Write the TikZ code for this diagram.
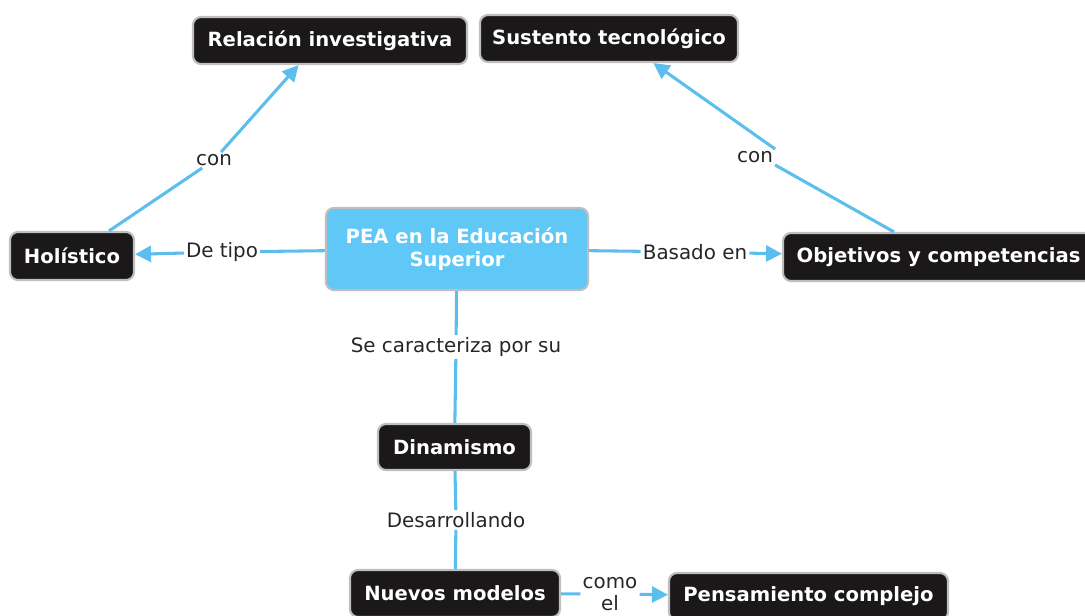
\documentclass[tikz,border=0pt]{standalone}
\usepackage{fontspec}
\setmainfont{DejaVu Sans}
\usetikzlibrary{arrows.meta}
\definecolor{lnk}{RGB}{92,190,236}
\definecolor{peafill}{RGB}{95,200,246}
\definecolor{boxfill}{RGB}{26,24,24}
\definecolor{boxline}{RGB}{190,190,190}
\tikzset{
  concept/.style={draw=boxline, line width=1.6pt, fill=boxfill, rounded corners=6pt,
    text=white, font=\fontsize{14.7}{17.5}\selectfont\bfseries, align=center, inner sep=0pt},
  central/.style={concept, fill=peafill},
  lbl/.style={inner sep=1.5pt, font=\fontsize{14.9}{16.5}\selectfont, text=black!85, align=center},
  link/.style={draw=lnk, line width=2.3pt},
  arr/.style={link, -{Triangle[length=12pt,width=12pt]}}
}
\begin{document}
\begin{tikzpicture}[x=0.75pt,y=-0.75pt]
\useasboundingbox (0,0) rectangle (1085,615);
\clip (0,0) rectangle (1085,615);
\node[concept, minimum width=274*0.75pt, minimum height=47*0.75pt] (rel) at (330,40.5) {Relación investigativa};
\node[concept, minimum width=258*0.75pt, minimum height=47*0.75pt] (sus) at (609,38.5) {Sustento tecnológico};
\node[central, minimum width=262*0.75pt, minimum height=82*0.75pt] (pea) at (457,249) {PEA en la Educación\\Superior};
\node[concept, minimum width=124*0.75pt, minimum height=48*0.75pt] (hol) at (72,256) {Holístico};
\node[concept, minimum width=311*0.75pt, minimum height=48*0.75pt] (obj) at (938.5,257) {Objetivos y competencias};
\node[concept, minimum width=153*0.75pt, minimum height=46*0.75pt] (din) at (454.5,447) {Dinamismo};
\node[concept, minimum width=210*0.75pt, minimum height=47*0.75pt] (nue) at (455,593.5) {Nuevos modelos};
\node[concept, minimum width=279*0.75pt, minimum height=47*0.75pt] (pen) at (808.5,596.5) {Pensamiento complejo};

\node[lbl] (con1) at (214,160) {con};
\node[lbl] (con2) at (755,157) {con};
\node[lbl] (tipo) at (222,252) {De tipo};
\node[lbl] (bas) at (695,252) {Basado en};
\node[lbl] (car) at (456,347) {Se caracteriza por su};
\node[lbl] (des) at (456,520) {Desarrollando};
\node[lbl] (como) at (610,594) {como\\el};

\draw[link] (hol) -- (con1);
\draw[arr] (con1) -- (rel.218);
\draw[link] (obj) -- (con2.south east);
\draw[arr] (con2.north east) -- (sus.-29);
\draw[link] (pea) -- (tipo);
\draw[arr] (tipo) -- (hol);
\draw[link] (pea) -- (bas);
\draw[arr] (bas) -- (obj);
\draw[link] (pea) -- (car);
\draw[link] (car) -- (din);
\draw[link] (din) -- (des);
\draw[link] (des) -- (nue);
\draw[link] (nue) -- (como);
\draw[arr] (como) -- (pen);
\end{tikzpicture}
\end{document}
